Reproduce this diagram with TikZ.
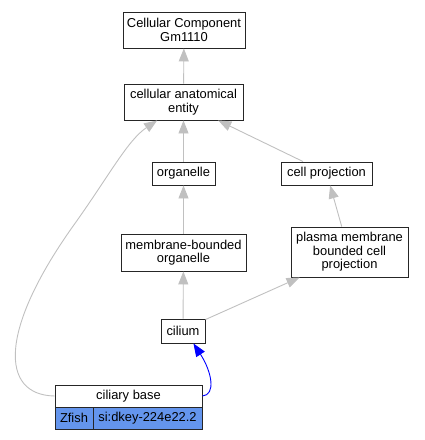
\documentclass[tikz,border=0pt]{standalone}
\usepackage{fontspec}
\setmainfont{Liberation Sans}
\usetikzlibrary{arrows.meta}
\definecolor{cornflower}{HTML}{6495ED}
\definecolor{edgegray}{HTML}{C0C0C0}
\tikzset{
    term/.style = {rectangle, draw=black!85, line width=0.9pt, fill=white, inner sep=0pt, align=center, font=\fontsize{12.9}{13.6}\selectfont},
    gene/.style = {term, fill=cornflower},
    edgeg/.style = {-{Triangle[length=13pt,width=10pt]}, line width=0.9pt, edgegray},
    edgeb/.style = {-{Triangle[length=13pt,width=10pt]}, line width=0.9pt, blue}
}
\begin{document}
\begin{tikzpicture}[x=1pt,y=-1pt]
\useasboundingbox (0,0) rectangle (424,440);
%
\node[term, minimum width=122pt, minimum height=36pt] at (184,30) (cc) {Cellular Component\\Gm1110};
\node[term, minimum width=119pt, minimum height=36pt] at (183.5,102) (cae) {cellular anatomical\\entity};
\node[term, minimum width=63pt, minimum height=23pt] at (183.5,173.5) (org) {organelle};
\node[term, minimum width=91pt, minimum height=23pt] at (326.5,173.5) (cproj) {cell projection};
\node[term, minimum width=125pt, minimum height=37pt] at (183.5,252.5) (morg) {membrane-bounded\\organelle};
\node[term, minimum width=117pt, minimum height=50pt] at (349.5,252) (pmproj) {plasma membrane\\bounded cell\\projection};
\node[term, minimum width=44pt, minimum height=24pt] at (183,331) (cil) {cilium};
\node[term, minimum width=147pt, minimum height=22pt] at (128.5,396) (cb) {ciliary base};
\node[gene, minimum width=38pt, minimum height=22pt] at (74,418) (cbz) {Zfish};
\node[gene, minimum width=109pt, minimum height=22pt] at (147.5,418) (cbs) {si:dkey-224e22.2};
%
\draw[edgeg] (cae) -- (cc);
\draw[edgeg] (org) -- (cae);
\draw[edgeg] (cproj.153) -- (cae.332);
\draw[edgeg] (morg) -- (org);
\draw[edgeg] (pmproj.107) -- (cproj.287);
\draw[edgeg] (cil) -- (morg);
\draw[edgeg] (cil.27) -- (pmproj.207);
\draw[edgeg] (cb.west) .. controls (0,395) and (-2,330) .. (76,222) .. controls (110,174) and (128,140) .. (cae.215);
\draw[edgeb] (cb.east) .. controls (216,395) and (212,372) .. (cil.310);
\end{tikzpicture}
\end{document}
